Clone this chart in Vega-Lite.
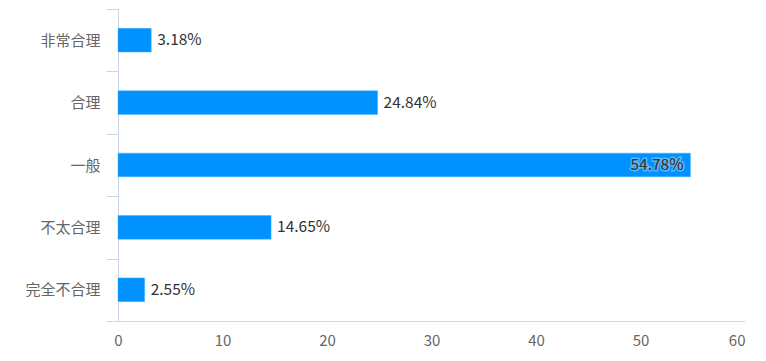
{
  "$schema": "https://vega.github.io/schema/vega-lite/v6.json",
  "width": 627,
  "height": 312,
  "autosize": "none",
  "padding": {"left": 118, "top": 9, "right": 21, "bottom": 40},
  "background": "#ffffff",
  "config": {"view": {"stroke": null}, "font": "Noto Sans CJK SC"},
  "data": {
    "values": [
      {"category": "非常合理", "value": 3.18, "label": "3.18%"},
      {"category": "合理", "value": 24.84, "label": "24.84%"},
      {"category": "一般", "value": 54.78, "label": "54.78%"},
      {"category": "不太合理", "value": 14.65, "label": "14.65%"},
      {"category": "完全不合理", "value": 2.55, "label": "2.55%"}
    ]
  },
  "encoding": {
    "y": {
      "field": "category",
      "type": "nominal",
      "sort": null,
      "scale": {"paddingInner": 0, "paddingOuter": 0},
      "axis": {
        "title": null,
        "tickBand": "extent",
        "tickSize": 12,
        "tickColor": "#CCD6EB",
        "domainColor": "#CCD6EB",
        "labelPadding": 6,
        "labelFontSize": 15,
        "labelColor": "#666666",
        "labelFont": "Noto Sans CJK SC"
      }
    },
    "x": {
      "field": "value",
      "type": "quantitative",
      "scale": {"domain": [0, 60], "nice": false},
      "axis": {
        "title": null,
        "values": [0, 10, 20, 30, 40, 50, 60],
        "grid": false,
        "ticks": false,
        "domainColor": "#CCD6EB",
        "labelPadding": 12,
        "labelFontSize": 15,
        "labelColor": "#666666",
        "labelFont": "Noto Sans CJK SC",
        "labelAlign": {"expr": "datum.value == 60 ? 'right' : 'center'"}
      }
    }
  },
  "layer": [
    {
      "mark": {"type": "bar", "height": {"band": 0.38}, "color": "#0092FF", "stroke": "#4db3ff", "strokeWidth": 0.5}
    },
    {
      "transform": [{"filter": "datum.value < 50"}],
      "mark": {"type": "text", "align": "left", "dx": 6, "fontSize": 15.5, "color": "#333333", "font": "Noto Sans CJK SC"},
      "encoding": {"text": {"field": "label", "type": "nominal"}}
    },
    {
      "transform": [{"filter": "datum.value >= 50"}],
      "mark": {"type": "text", "align": "right", "dx": -7, "fontSize": 15.5, "color": "#333333", "stroke": "#ffffff", "strokeWidth": 3, "strokeOpacity": 0.35, "font": "Noto Sans CJK SC"},
      "encoding": {"text": {"field": "label", "type": "nominal"}}
    },
    {
      "transform": [{"filter": "datum.value >= 50"}],
      "mark": {"type": "text", "align": "right", "dx": -7, "fontSize": 15.5, "color": "#333333", "font": "Noto Sans CJK SC"},
      "encoding": {"text": {"field": "label", "type": "nominal"}}
    }
  ]
}
